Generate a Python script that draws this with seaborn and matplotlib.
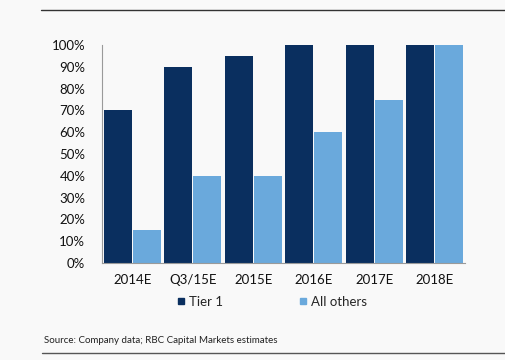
import pandas as pd
import matplotlib
matplotlib.use('Agg')
import matplotlib.pyplot as plt
import seaborn as sns
from matplotlib.lines import Line2D

# data
periods = ['2014E', 'Q3/15E', '2015E', '2016E', '2017E', '2018E']
tier1 = [70, 90, 95, 100, 100, 100]
all_others = [15, 40, 40, 60, 75, 100]
series_names = ['Tier 1', 'All others']

if __name__ == '__main__':
    df = pd.DataFrame({
        'Period': periods * 2,
        'Share': tier1 + all_others,
        'Series': [series_names[0]] * len(periods) + [series_names[1]] * len(periods),
    })

    sns.set_theme(style='white')
    plt.rcParams['font.family'] = ['Lato', 'DejaVu Sans']
    bg = '#f9f9f9'
    fig = plt.figure(figsize=(5.06, 3.6), dpi=100, facecolor=bg)
    ax = fig.add_axes([0.2016, 0.2694, 0.7174, 0.6056], facecolor=bg)

    sns.barplot(data=df, x='Period', y='Share', hue='Series', ax=ax,
                palette=['#0a2f5f', '#6aa9dc'], width=0.97, gap=0.05,
                saturation=1, edgecolor='none')

    ax.set_ylim(0, 100)
    ax.set_xlim(-0.5, 5.5)
    ax.set_yticks(range(0, 101, 10))
    ax.set_yticklabels([f'{v}%' for v in range(0, 101, 10)], fontsize=9.5, color='#111111')
    ax.tick_params(axis='x', labelsize=9.5, colors='#111111', pad=8, length=0)
    ax.tick_params(axis='y', pad=12, length=0)
    ax.set_xlabel('')
    ax.set_ylabel('')
    for s in ['top', 'right']:
        ax.spines[s].set_visible(False)
    for s in ['left', 'bottom']:
        ax.spines[s].set_color('#9a9a9a')
        ax.spines[s].set_linewidth(0.8)

    # legend below the axis
    ax.legend_.remove()
    handles = [Line2D([], [], marker='s', linestyle='', markersize=5, color=c)
               for c in ['#0a2f5f', '#6aa9dc']]
    fig.legend(handles, series_names, loc='center', bbox_to_anchor=(0.535, 0.162),
               ncol=2, frameon=False, fontsize=9.5, handletextpad=0.1,
               columnspacing=5.6, handlelength=1.0)

    # rules and source note
    fig.add_artist(Line2D([0.081, 1.0], [0.972, 0.972], color='#333333', linewidth=1.0))
    fig.add_artist(Line2D([0.083, 1.0], [0.019, 0.019], color='#555555', linewidth=1.0))
    fig.text(0.087, 0.055, 'Source: Company data; RBC Capital Markets estimates',
             fontsize=7, color='#222222', va='center')

    fig.savefig('out.png', dpi=100, facecolor=bg)
